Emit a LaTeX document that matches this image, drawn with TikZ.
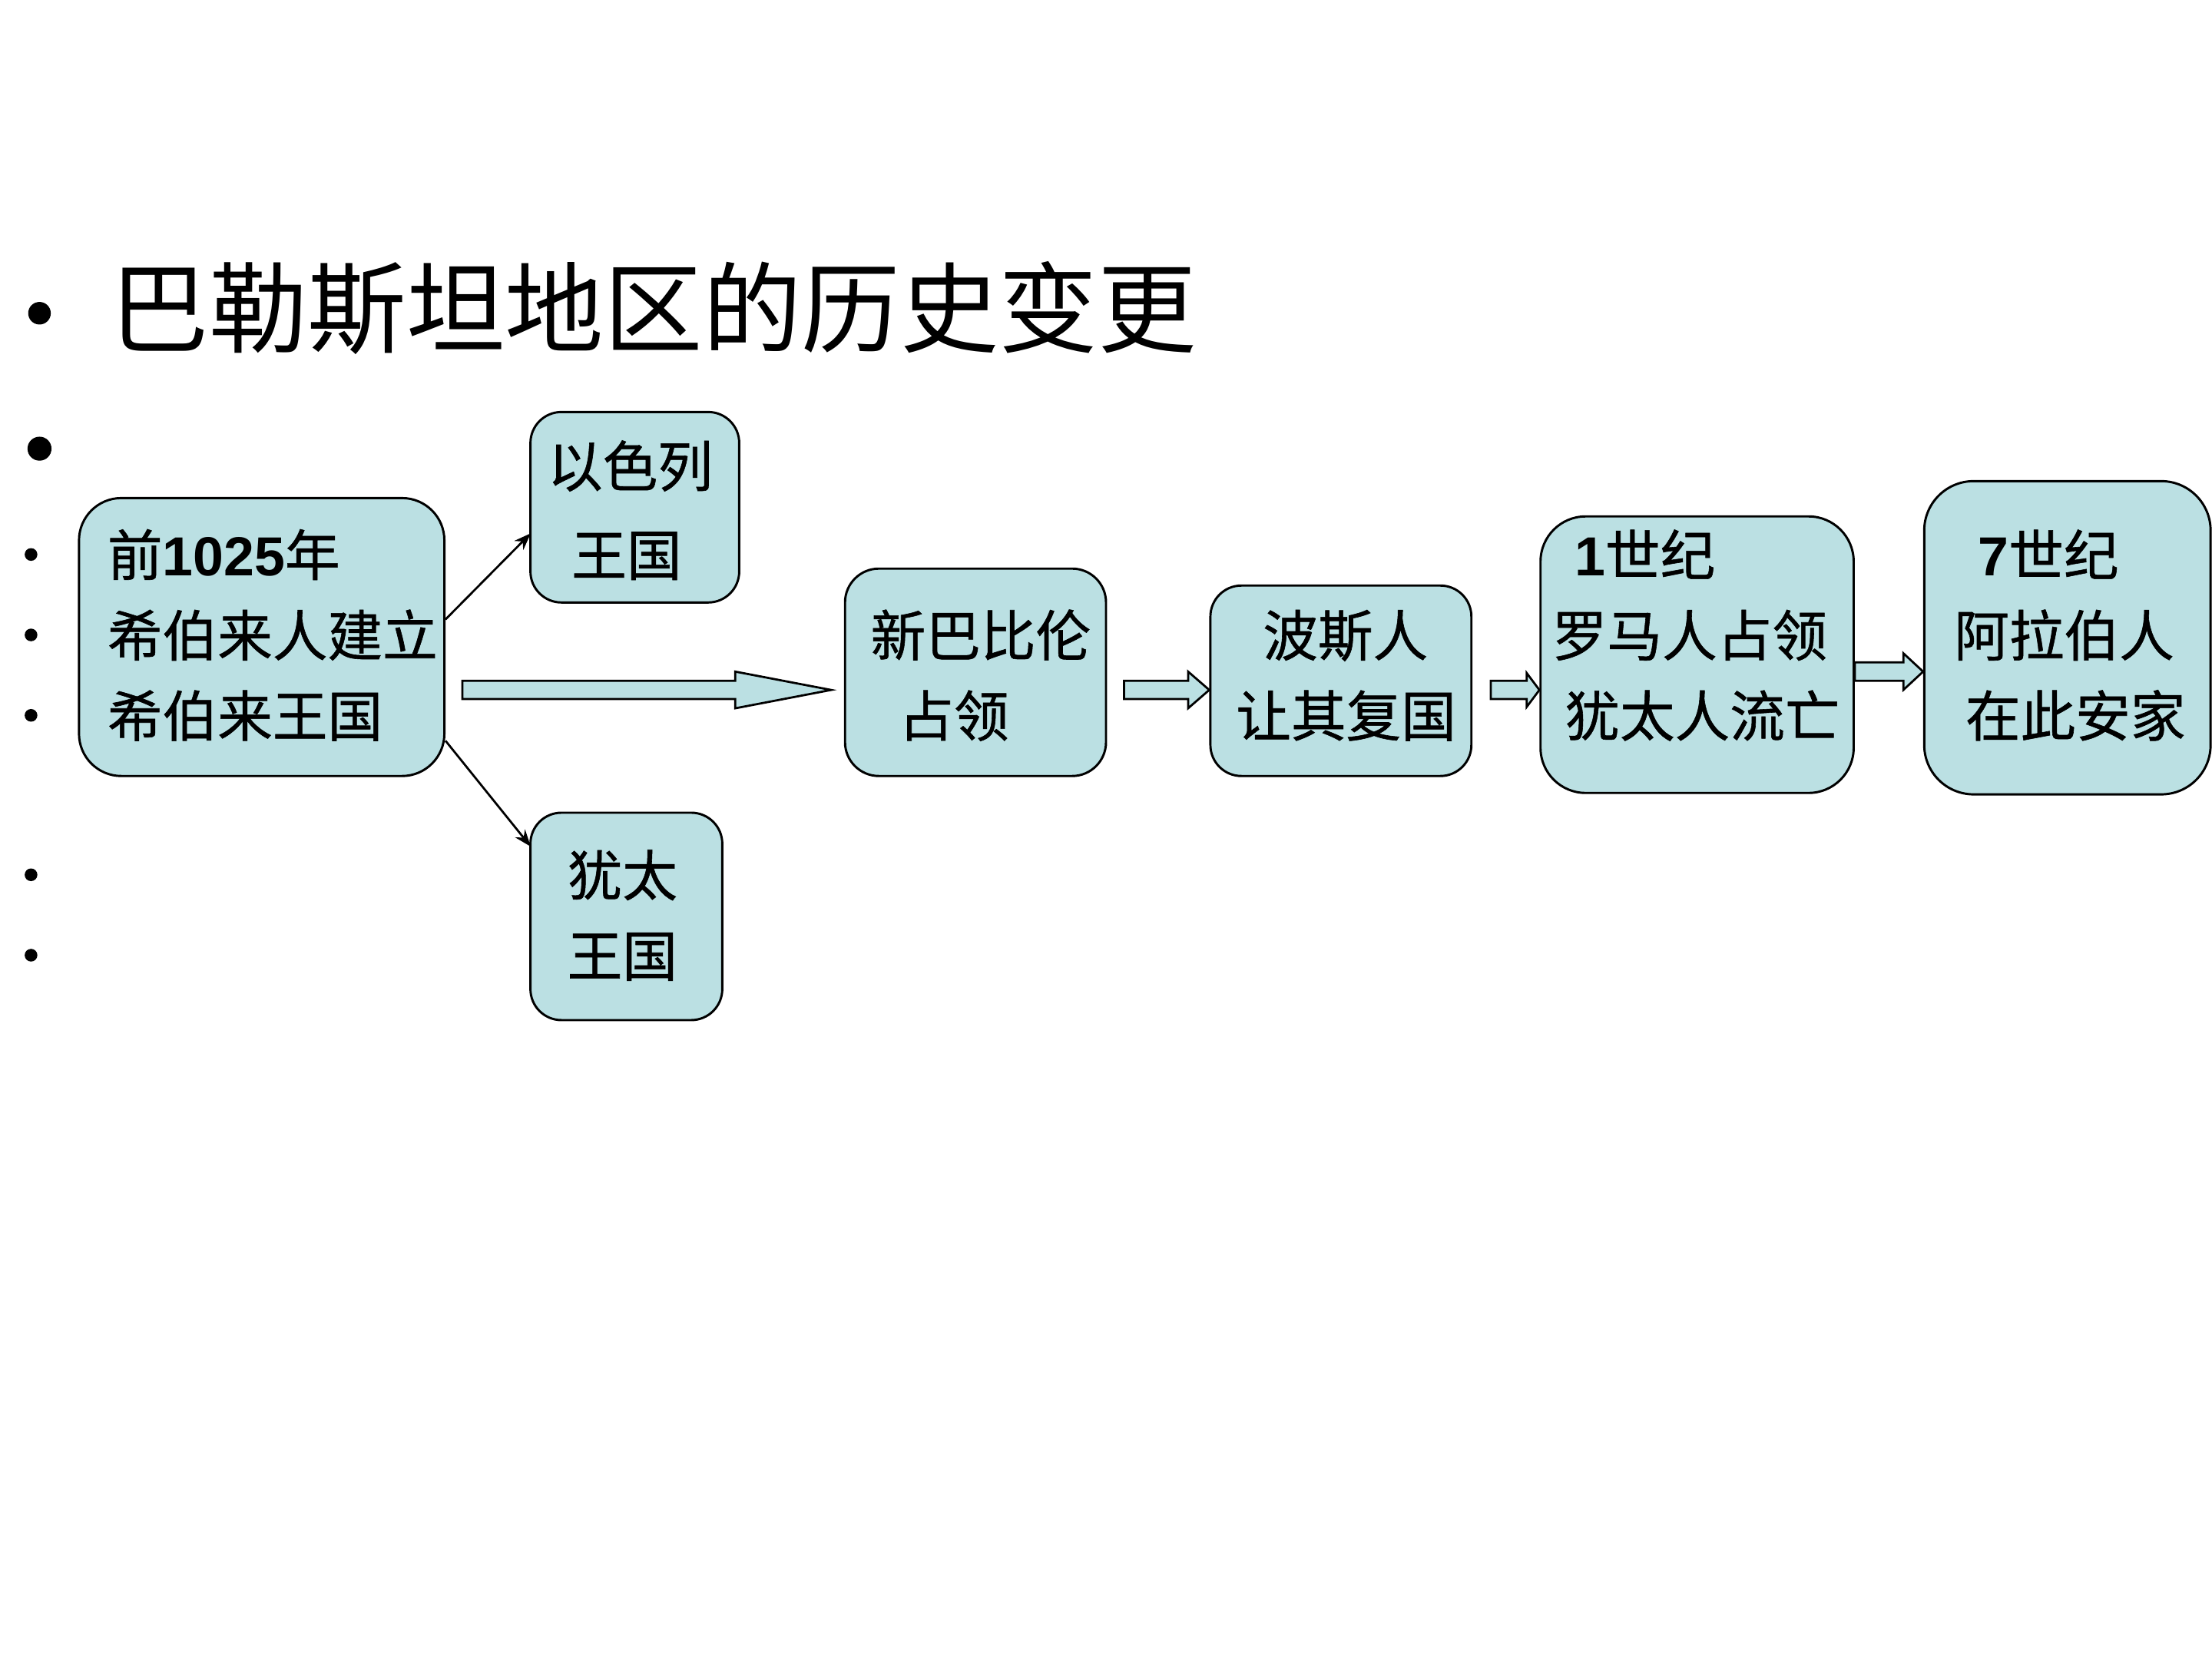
\documentclass[tikz,border=0pt]{standalone}
\usepackage{fontspec}
\setmainfont{Liberation Sans}
\newfontfamily\cjk{Noto Sans CJK SC}[FakeBold=0.8]
\newfontfamily\cjkt{Noto Sans CJK SC}
\newfontfamily\arialf{Liberation Sans}
\usetikzlibrary{calc,arrows.meta}
\definecolor{boxfill}{RGB}{187,224,227}
\newcommand{\blockarr}[5]{%
  \draw[barrow] let \p1=(#1), \p2=(#2) in
  (\x1,\y1+#3pt) -- (\x2-#5pt,\y1+#3pt) -- (\x2-#5pt,\y1+#4pt) -- (\x2,\y1)
  -- (\x2-#5pt,\y1-#4pt) -- (\x2-#5pt,\y1-#3pt) -- (\x1,\y1-#3pt) -- cycle;}
\newcommand{\dg}[1]{{\arialf\bfseries #1}}
\begin{document}
\begin{tikzpicture}[x=1pt,y=-1pt,
  box/.style={draw=black,line width=1.6pt,fill=boxfill,inner sep=0pt},
  txt/.style={anchor=base west,inner sep=0pt,font=\cjk\fontsize{39}{39}\selectfont},
  ttl/.style={anchor=base west,inner sep=0pt,font=\cjkt\fontsize{70}{70}\selectfont},
  barrow/.style={draw=black,line width=1.5pt,fill=boxfill,line join=miter},
  thinarrow/.style={draw=black,line width=1.5pt,-{Stealth[length=12pt,width=9pt]}},
  dot/.style={fill=black}]
\fill[white] (0,0) rectangle (1568,1176);
\useasboundingbox (0,0) rectangle (1568,1176);

% title and bullets
\fill[dot] (28,222) circle (8);
\node[ttl] (title) at (78,244.5) {巴勒斯坦地区的历史变更};
\fill[dot] (28,318) circle (8.5);
\foreach \yy in {393,450,507,620,677} \fill[dot] (22,\yy) circle (4.5);

% boxes
\node[box,rounded corners=30pt,minimum width=259pt,minimum height=197pt] (A) at (185.5,451.5) {};
\node[box,rounded corners=22pt,minimum width=148pt,minimum height=135pt] (B) at (450,359.5) {};
\node[box,rounded corners=22pt,minimum width=136pt,minimum height=147pt] (C) at (444,649.5) {};
\node[box,rounded corners=24pt,minimum width=185pt,minimum height=147pt] (D) at (691.5,476.5) {};
\node[box,rounded corners=22pt,minimum width=185pt,minimum height=135pt] (E) at (950.5,482.5) {};
\node[box,rounded corners=32pt,minimum width=222pt,minimum height=196pt] (F) at (1203,464) {};
\node[box,rounded corners=35pt,minimum width=203pt,minimum height=222pt] (G) at (1465.5,452) {};

% texts
\node[txt] (a1) at (76,408) {前\dg{1025}年};
\node[txt] (a2) at (76,465) {希伯来人建立};
\node[txt] (a3) at (76,522) {希伯来王国};
\node[txt] (b1) at (388,345) {以色列};
\node[txt] (b2) at (405,408) {王国};
\node[txt] (c1) at (402,635) {犹太};
\node[txt] (c2) at (402,692) {王国};
\node[txt] (d1) at (617,465) {新巴比伦};
\node[txt] (d2) at (637,522) {占领};
\node[txt] (e1) at (895,465) {波斯人};
\node[txt] (e2) at (876,522) {让其复国};
\node[txt] (f1) at (1116,408) {\dg{1}世纪};
\node[txt] (f2) at (1100,465) {罗马人占领};
\node[txt] (f3) at (1109,522) {犹太人流亡};
\node[txt] (g1) at (1402,408) {\dg{7}世纪};
\node[txt] (g2) at (1385,465) {阿拉伯人};
\node[txt] (g3) at (1393,522) {在此安家};

% thin arrows
\draw[thinarrow] ([yshift=12.5pt]A.east) -- ([xshift=1pt,yshift=-18.5pt]B.west);
\draw[thinarrow] ([yshift=-73.5pt]A.east) -- ([xshift=1pt,yshift=49.5pt]C.west);

% block arrows
\coordinate (ad1) at ($(A.east)+(12,37.5)$);
\coordinate (ad2) at ($(D.west)+(-9,12.5)$);
\blockarr{ad1}{ad2}{6.5}{13}{68}
\coordinate (de1) at ($(D.east)+(12,12.5)$);
\coordinate (de2) at ($(E.west)+(0,6.5)$);
\blockarr{de1}{de2}{6.5}{13}{15}
\coordinate (ef1) at ($(E.east)+(13,6.5)$);
\coordinate (ef2) at ($(F.west)+(0,25)$);
\blockarr{ef1}{ef2}{6.5}{12}{9}
\coordinate (fg1) at ($(F.east)+(0,12)$);
\coordinate (fg2) at ($(G.west)+(0,24)$);
\blockarr{fg1}{fg2}{6.5}{13}{14}
\end{tikzpicture}
\end{document}
